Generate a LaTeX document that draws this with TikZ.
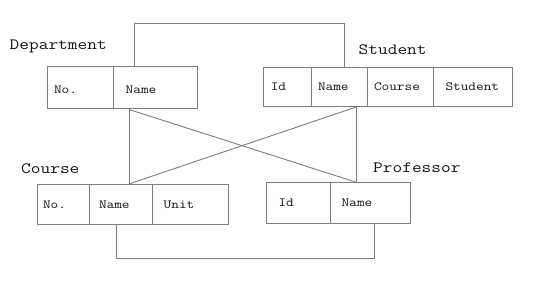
\documentclass[tikz,border=0pt]{standalone}
\usepackage{fontspec}
\setmonofont[FakeStretch=1.2]{Latin Modern Mono}
\definecolor{linegray}{RGB}{125,125,125}
\definecolor{txt}{RGB}{20,20,20}
\tikzset{
  cellbox/.style={draw=linegray, line width=1pt, inner sep=0pt, minimum height=#1},
  cellbox/.default=42pt,
  title/.style={anchor=base west, inner sep=0pt, text=txt, font=\fontsize{15.7}{18}\ttfamily},
  field/.style={anchor=base west, inner sep=0pt, text=txt, font=\fontsize{12.4}{15}\ttfamily},
  conn/.style={draw=linegray, line width=0.9pt}
}
\begin{document}
\begin{tikzpicture}[x=1pt,y=-1pt]
\useasboundingbox (0,0) rectangle (534,296);
% Department
\node[cellbox=42pt, minimum width=66.5pt] (dNo) at (80.25,88) {};
\node[cellbox=42pt, minimum width=83.5pt] (dName) at (155.25,88) {};
% Student
\node[cellbox=38.5pt, minimum width=48.3pt] (sId) at (287.15,87.25) {};
\node[cellbox=38.5pt, minimum width=56pt] (sName) at (339.3,87.25) {};
\node[cellbox=38.5pt, minimum width=66pt] (sCourse) at (400.3,87.25) {};
\node[cellbox=38.5pt, minimum width=79.2pt] (sStudent) at (472.9,87.25) {};
% Course
\node[cellbox=39.7pt, minimum width=52pt] (cNo) at (63.3,204.15) {};
\node[cellbox=39.7pt, minimum width=63.4pt] (cName) at (121,204.15) {};
\node[cellbox=39.7pt, minimum width=76pt] (cUnit) at (190.7,204.15) {};
% Professor
\node[cellbox=40.3pt, minimum width=64pt] (pId) at (298.3,202.85) {};
\node[cellbox=40.3pt, minimum width=80.4pt] (pName) at (370.5,202.85) {};

% titles
\node[title] (tDept) at (9.5,50) {Department};
\node[title] (tStud) at (358.5,55) {Student};
\node[title] (tCourse) at (21,173.3) {Course};
\node[title] (tProf) at (373,172.3) {Professor};

% fields
\node[field] (fdNo) at (53.8,93.3) {No.};
\node[field] (fdName) at (125.5,93.3) {Name};
\node[field] (fsId) at (270.6,90.5) {Id};
\node[field] (fsName) at (317.8,90.5) {Name};
\node[field] (fsCourse) at (373.8,90.5) {Course};
\node[field] (fsStudent) at (445.3,91) {Student};
\node[field] (fcNo) at (42.8,208.3) {No.};
\node[field] (fcName) at (98.8,208.3) {Name};
\node[field] (fcUnit) at (163.5,208.3) {Unit};
\node[field] (fpId) at (278.3,206.3) {Id};
\node[field] (fpName) at (341.5,206.3) {Name};

% connectors
\draw[conn] ([xshift=21pt]dName.north west) -- ++(0,-43) -| ([xshift=33.7pt]sName.north west);
\draw[conn] ([xshift=16pt]dName.south west) -- ([xshift=40.2pt]cName.north west);
\draw[conn] ([xshift=16pt]dName.south west) -- ([xshift=26.4pt]pName.north west);
\draw[conn] ([xshift=45.4pt]sName.south west) -- ([xshift=26.4pt]pName.north west);
\draw[conn] ([xshift=45.4pt]sName.south west) -- ([xshift=40.7pt]cName.north west);
\draw[conn] ([xshift=27.4pt]cName.south west) -- ++(0,34) -| ([xshift=45pt]pName.south west);
\end{tikzpicture}
\end{document}
